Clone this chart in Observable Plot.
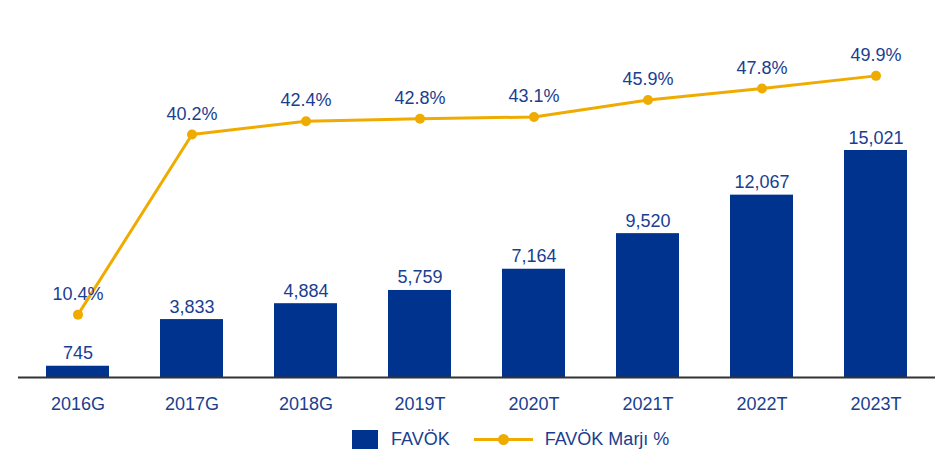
<!DOCTYPE html>
<html>
<head>
<meta charset="utf-8">
<script src="https://cdn.jsdelivr.net/npm/d3@7"></script>
<script src="https://cdn.jsdelivr.net/npm/@observablehq/plot@0.6"></script>
<style>
  body { margin: 0; background: #fff; font-family: "Liberation Sans", Arial, sans-serif; }
  #chart { position: relative; width: 936px; height: 455px; }
  .legend { position: absolute; left: 352px; top: 429px; display: flex; align-items: center; font-size: 18px; color: #1a3e90; height: 20px; }
  .sw { width: 26px; height: 19px; background: #00338d; margin-right: 13px; }
  .ln { position: relative; width: 59px; height: 3px; background: #f0ab00; margin-left: 24px; margin-right: 12px; }
  .ln::after { content: ""; position: absolute; left: 24px; top: -4px; width: 11px; height: 11px; border-radius: 50%; background: #f0ab00; }
</style>
</head>
<body>
<div id="chart"></div>
<script>
const categories = ["2016G", "2017G", "2018G", "2019T", "2020T", "2021T", "2022T", "2023T"];
const favok = [745, 3833, 4884, 5759, 7164, 9520, 12067, 15021];
const marj = [10.4, 40.2, 42.4, 42.8, 43.1, 45.9, 47.8, 49.9];

const barColor = "#00338d";
const lineColor = "#f0ab00";
const textColor = "#1a3e90";
const k = 400; // margin % mapped onto the bar axis (secondary scale)

const bars = categories.map((c, i) => ({cat: c, v: favok[i]}));
const pts = categories.map((c, i) => ({cat: c, p: marj[i], y: marj[i] * k}));

const plot = Plot.plot({
  width: 936,
  height: 420,
  marginTop: 20,
  marginBottom: 43,
  marginLeft: 18,
  marginRight: 1,
  style: {fontFamily: "'Liberation Sans', Arial, sans-serif", background: "#fff"},
  x: {type: "band", domain: categories, paddingInner: 0.444, paddingOuter: 0.236, label: null},
  y: {domain: [0, 23624], axis: null},
  marks: [
    Plot.barY(bars, {x: "cat", y: "v", fill: barColor}),
    Plot.ruleY([0], {stroke: "#333", strokeWidth: 2}),
    Plot.text(bars, {x: "cat", y: "v", text: d => d3.format(",")(d.v), dy: -7, lineAnchor: "bottom", fontSize: 18, fill: textColor}),
    Plot.line(pts, {x: "cat", y: "y", stroke: lineColor, strokeWidth: 3}),
    Plot.dot(pts, {x: "cat", y: "y", r: 5, fill: lineColor}),
    Plot.text(pts, {x: "cat", y: "y", text: d => d.p.toFixed(1) + "%", dy: -15, lineAnchor: "bottom", fontSize: 18, fill: textColor}),
    Plot.axisX({tickSize: 0, tickPadding: 20, fontSize: 18, color: textColor, label: null})
  ]
});
const chart = document.getElementById("chart");
chart.appendChild(plot);
const legend = document.createElement("div");
legend.className = "legend";
legend.innerHTML = '<div class="sw"></div><span>FAVÖK</span><div class="ln"></div><span>FAVÖK Marjı %</span>';
chart.appendChild(legend);
</script>
</body>
</html>
